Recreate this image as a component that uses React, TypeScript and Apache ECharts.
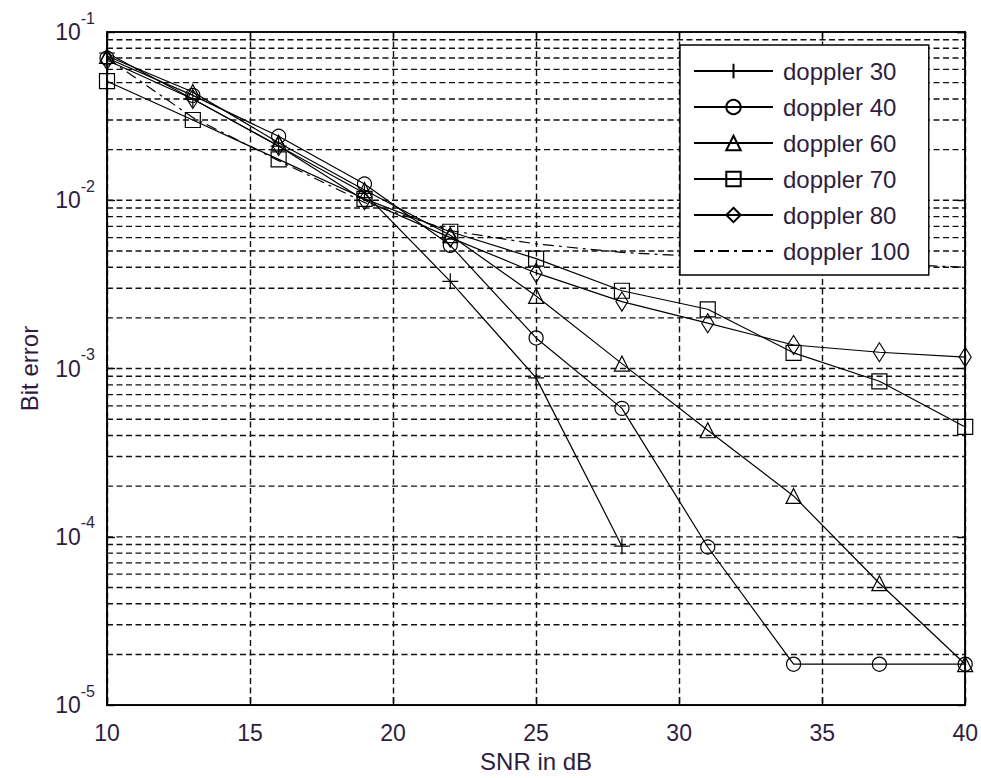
import React, { useEffect, useRef } from "react";
import * as echarts from "echarts";

const snr = [10, 13, 16, 19, 22, 25, 28, 31, 34, 37, 40];
const doppler30 = [0.075, 0.040, 0.021, 0.0110, 0.0033, 0.00088, 0.000088];
const doppler40 = [0.070, 0.042, 0.024, 0.0125, 0.0054, 0.00152, 0.00058, 0.000087, 0.0000175, 0.0000175, 0.0000175];
const doppler60 = [0.072, 0.044, 0.022, 0.0115, 0.0062, 0.0027, 0.00107, 0.00043, 0.000175, 0.000053, 0.0000175];
const doppler70 = [0.051, 0.030, 0.0175, 0.0102, 0.0065, 0.0045, 0.0029, 0.00225, 0.00124, 0.00084, 0.00045];
const doppler80 = [0.068, 0.040, 0.021, 0.0100, 0.0060, 0.0037, 0.0025, 0.00186, 0.00138, 0.00125, 0.00117];
const doppler100 = [0.070, 0.031, 0.0172, 0.0097, 0.0066, 0.0055, 0.0049, 0.0046, 0.0044, 0.0042, 0.0040];

const seriesNames = ["doppler 30", "doppler 40", "doppler 60", "doppler 70", "doppler 80", "doppler 100"];
const gridDecades = [-5, -4, -3, -2];
const gridMantissas = [1, 2, 3, 4, 5, 6, 7, 8, 9];
const xRange = [10, 40];

const FONT = "Liberation Sans, Arial, sans-serif";
const TXT = "#2e1d3e";
const GRID_DASH = [6, 3.5];

export default function App() {
  const ref = useRef<HTMLDivElement>(null);
  useEffect(() => {
    if (!ref.current) return;
    const chart = echarts.init(ref.current, null, { renderer: "svg" });
    const pair = (ys: number[]) => ys.map((y, i) => [snr[i], y]);
    const gridVals: number[] = [];
    gridDecades.forEach((d) =>
      gridMantissas.forEach((m) => {
        const v = m * Math.pow(10, d);
        if (v > 1e-5 && v < 0.1) gridVals.push(v);
      })
    );
    const gridSeries = gridVals.map((v, i) => ({
      name: "grid" + i,
      type: "line",
      data: [
        [xRange[0], v],
        [xRange[1], v],
      ],
      symbol: "none",
      silent: true,
      z: 1,
      lineStyle: { color: "#111", type: GRID_DASH, width: 1.4 },
      emphasis: { disabled: true },
    }));
    const base = (name: string, data: number[], symbol: string, size: any) => ({
      name,
      type: "line",
      data: pair(data),
      symbol,
      symbolSize: size,
      showAllSymbol: true,
      z: 3,
      lineStyle: { color: "#000", width: 1.2 },
      itemStyle: { color: "rgba(255,255,255,0)", borderColor: "#000", borderWidth: 1.2 },
      emphasis: { disabled: true },
    });
    const axisLine = { show: true, lineStyle: { color: "#000", width: 1.6 } };
    const axisTick = { show: true, inside: true, length: 8, lineStyle: { color: "#000", width: 1.4 } };
    const option: any = {
      animation: false,
      backgroundColor: "#fff",
      grid: {
        left: 107,
        top: 32,
        width: 860,
        height: 677,
        show: true,
        borderColor: "#000",
        borderWidth: 1.6,
        backgroundColor: "#fff",
      },
      xAxis: [
        {
          type: "value",
          min: 10,
          max: 40,
          interval: 5,
          name: "SNR in dB",
          nameLocation: "middle",
          nameGap: 42,
          nameTextStyle: { fontFamily: FONT, fontSize: 24, color: TXT },
          axisLine,
          axisTick,
          axisLabel: { fontFamily: FONT, fontSize: 23, color: TXT, margin: 16 },
          splitLine: { show: true, lineStyle: { color: "#111", type: GRID_DASH, width: 1.4 } },
        },
        {
          type: "value",
          position: "top",
          min: 10,
          max: 40,
          interval: 5,
          axisLine,
          axisTick,
          axisLabel: { show: false },
          splitLine: { show: false },
        },
      ],
      yAxis: [
        {
          type: "log",
          logBase: 10,
          min: 1e-5,
          max: 0.1,
          name: "Bit error",
          nameLocation: "middle",
          nameGap: 66,
          nameTextStyle: { fontFamily: FONT, fontSize: 24, color: TXT },
          axisLine,
          axisTick,
          axisLabel: {
            margin: 12,
            formatter: (v: number) => `{b|10}{s|${Math.round(Math.log10(v))}}`,
            rich: {
              b: { fontFamily: FONT, fontSize: 23, color: TXT },
              s: { fontFamily: FONT, fontSize: 16, color: TXT, padding: [0, 0, 28, 0] },
            },
          },
          splitLine: { show: false },
        },
        {
          type: "log",
          logBase: 10,
          min: 1e-5,
          max: 0.1,
          position: "right",
          axisLine,
          axisTick,
          axisLabel: { show: false },
          splitLine: { show: false },
        },
      ],
      legend: {
        orient: "vertical",
        left: 680,
        top: 45,
        backgroundColor: "#fff",
        borderColor: "#000",
        borderWidth: 1.4,
        padding: [14, 19, 12, 13],
        itemWidth: 79,
        itemHeight: 18,
        itemGap: 12,
        selectedMode: false,
        data: seriesNames,
        textStyle: { fontFamily: FONT, fontSize: 24, color: TXT, lineHeight: 24, padding: [0, 0, 0, 5] },
      },
      series: [
        ...gridSeries,
        base(seriesNames[0], doppler30, "path://M0,5L10,5M5,0L5,10", 16),
        base(seriesNames[1], doppler40, "circle", 14),
        base(seriesNames[2], doppler60, "triangle", 15),
        base(seriesNames[3], doppler70, "rect", 15),
        base(seriesNames[4], doppler80, "path://M5,0L10,10L5,20L0,10Z", [12, 19]),
        {
          name: seriesNames[5],
          type: "line",
          data: pair(doppler100),
          symbol: "none",
          z: 3,
          lineStyle: { color: "#000", width: 1.2, type: [11, 5, 3, 5] },
          itemStyle: { color: "rgba(0,0,0,0)", borderWidth: 0 },
          emphasis: { disabled: true },
        },
      ],
    };
    chart.setOption(option);
    return () => chart.dispose();
  }, []);
  return <div ref={ref} style={{ width: 981, height: 778, position: "absolute", left: 0, top: 0 }} />;
}
